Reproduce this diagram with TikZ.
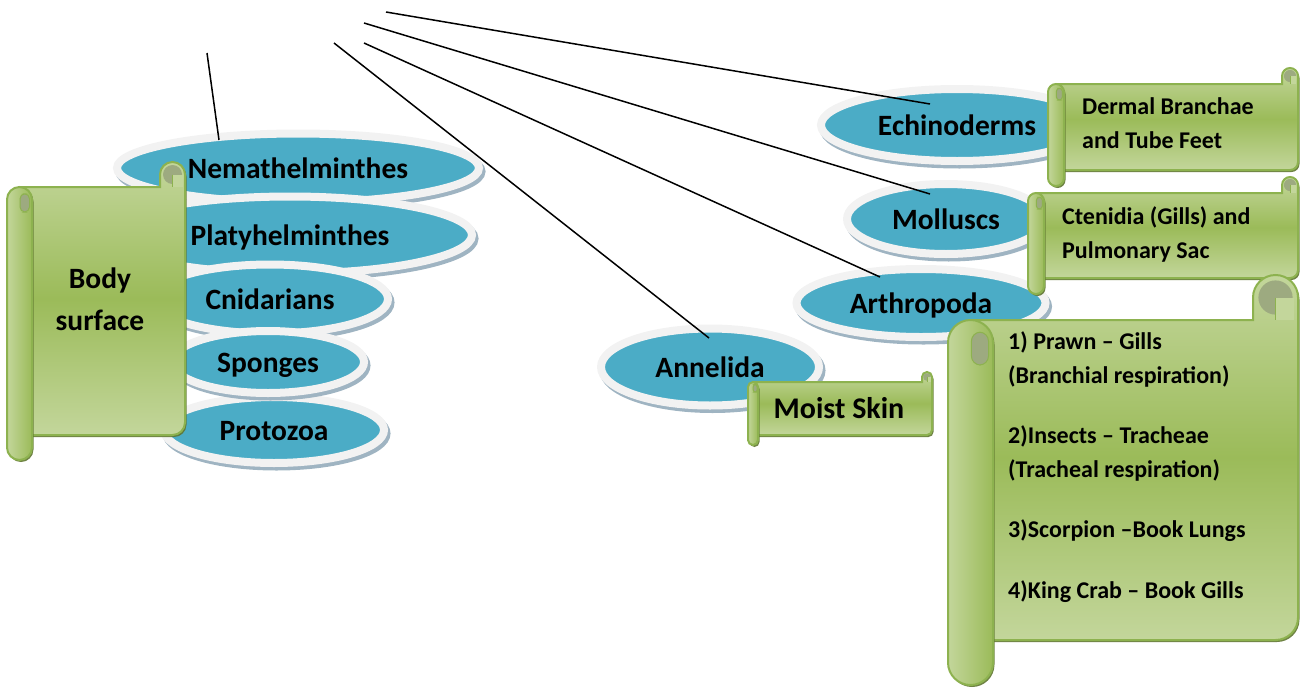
\documentclass[tikz,border=0pt]{standalone}
\usepackage{fontspec}
\setmainfont{Carlito}
\usepackage{tikz}
\usetikzlibrary{shapes.geometric, shadows}
\definecolor{taxoncyan}{HTML}{4BACC6}
\definecolor{ringgray}{HTML}{F2F2F2}
\definecolor{shadowblue}{HTML}{9FB4C2}
\definecolor{scrolllight}{HTML}{C3D69B}
\definecolor{scrollmid}{HTML}{9BBB59}
\definecolor{scrolledge}{HTML}{8DB24F}
\definecolor{scrolldark}{HTML}{5F7530}
\definecolor{curlgray}{HTML}{9DAA80}

% scroll panel: #1 left, #2 top, #3 right, #4 bottom, #5 roll width
\newcommand{\scrollpanel}[5]{%
  \path[scrollline, top color=scrolllight, bottom color=scrolllight, middle color=scrollmid]
    (#3-#5,#2) -- (#1+#5/2,#2) -- (#1+#5/2,#4) -- (#3-#5/2,#4) arc (90:0:#5/2)
    -- (#3,#2-#5/2) arc (360:180:#5/2) -- cycle;
  \fill[curlgray] (#3-#5/2,#2-#5/2) circle (0.38*#5);
  \fill[scrolllight] (#3-#5/2,#2-#5/2) rectangle (#3-0.1*#5,#2);
  \draw[scrolledge, line width=1pt] (#3-#5/2,#2-#5/2) -- (#3-#5/2,#2);
  \path[scrollline, left color=scrolllight, right color=scrollmid, rounded corners=#5/2]
    (#1,#2) rectangle (#1+#5,#4+#5);
  \path[fill=curlgray, draw=scrolledge, line width=1pt, rounded corners=0.2*#5]
    (#1+0.52*#5,#2+#5) rectangle (#1+0.9*#5,#2+0.27*#5);
}

\begin{document}
\begin{tikzpicture}[x=1pt, y=-1pt,
  taxon/.style={ellipse, fill=taxoncyan, draw=ringgray, line width=8pt, inner sep=0pt,
                font=\fontsize{29.5}{32}\selectfont\bfseries, text height=20pt, text depth=0pt,
                drop shadow={shadow xshift=2.5pt, shadow yshift=-3.5pt, fill=shadowblue,
                             draw=shadowblue, line width=8pt, opacity=1}},
  scrollline/.style={draw=scrolledge, line width=2pt,
                     drop shadow={shadow xshift=1.5pt, shadow yshift=-2pt, fill=scrolldark, opacity=0.9}},
  scrolltext/.style={inner sep=0pt, align=left, font=\fontsize{24}{33.5}\selectfont\bfseries},
  link/.style={line width=1.5pt}
]
  \useasboundingbox (0,0) rectangle (1305,688);

  % phyla with respiration through the body surface
  \node[taxon, minimum width=220, minimum height=66] (proto) at (274,430) {Protozoa};
  \node[taxon, minimum width=362, minimum height=69] (nema) at (298,168) {Nemathelminthes};
  \node[taxon, minimum width=364, minimum height=77] (platy) at (290,235) {Platyhelminthes};
  \node[taxon, minimum width=236, minimum height=69] (cnid) at (270,299) {Cnidarians};
  \node[taxon, minimum width=192, minimum height=62] (spong) at (268,362) {Sponges};

  \node[taxon, minimum width=218, minimum height=77] (anne) at (710,367) {Annelida};
  \node[taxon, minimum width=249, minimum height=68] (arth) at (921,303) {Arthropoda};
  \node[taxon, minimum width=198, minimum height=70] (moll) at (946,219) {Molluscs};
  \node[taxon, minimum width=272, minimum height=72] (echi) at (957,125) {Echinoderms};

  \coordinate (nema-src) at (207,53);
  \coordinate (anne-src) at (334,43);
  \coordinate (arth-src) at (364,43);
  \coordinate (moll-src) at (364,23);
  \coordinate (echi-src) at (386,12);

  \draw[link] (nema-src) -- ([shift={(-79,-28)}]nema.center);
  \draw[link] (anne-src) -- ([shift={(-1,-29)}]anne.center);
  \draw[link] (arth-src) -- ([shift={(-41,-26)}]arth.center);
  \draw[link] (moll-src) -- ([shift={(-16,-25)}]moll.center);
  \draw[link] (echi-src) -- ([shift={(-27,-21)}]echi.center);

  % respiratory organs
  \scrollpanel{7}{187}{185}{435}{25}
  \node[scrolltext, align=center, font=\fontsize{29.5}{42}\selectfont\bfseries, anchor=base]
    (bodysurf) at (100,330) {Body\\surface};

  \scrollpanel{748}{382}{932}{435}{10}
  \node[font=\fontsize{30}{32}\selectfont\bfseries, inner sep=0pt, anchor=base]
    (moist) at (839,418) {Moist Skin};

  \scrollpanel{1048}{84}{1298}{170}{16}
  \node[scrolltext, anchor=base west] (dermal) at (1082,148) {Dermal Branchae\\and Tube Feet};

  \scrollpanel{1028}{193}{1298}{278}{16}
  \node[scrolltext, anchor=base west] (cten) at (1062,258) {Ctenidia (Gills) and\\Pulmonary Sac};

  \scrollpanel{948}{320}{1298}{640}{45}
  \node[scrolltext, anchor=base west] (arthorgans) at (1008,598)
    {1) Prawn -- Gills\\(Branchial respiration)\\[27pt]
     2)Insects -- Tracheae\\(Tracheal respiration)\\[27pt]
     3)Scorpion --Book Lungs\\[27pt]
     4)King Crab -- Book Gills};
\end{tikzpicture}
\end{document}
